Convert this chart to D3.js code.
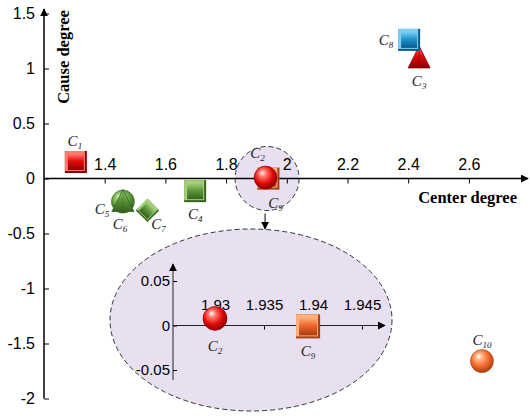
<!DOCTYPE html>
<meta charset="utf-8">
<style>
    body { margin: 0; background: #fff; }
    .tick text { font-family: "Liberation Sans", Arial, sans-serif; font-size: 16px; fill: #000; }
    .inset .tick text { font-size: 15px; }
    .lbl { font-family: "Liberation Serif", "Times New Roman", serif; font-style: italic; font-size: 15px; fill: #222; }
    .title { font-family: "Liberation Serif", "Times New Roman", serif; font-weight: bold; font-size: 16.5px; }
</style>
<body>
<script src="https://cdn.jsdelivr.net/npm/d3@7"></script>
<script>
    /* data */
    var ids = ["C1", "C2", "C3", "C4", "C5", "C6", "C7", "C8", "C9", "C10"];
    var centerDeg = [1.305, 1.93, 2.436, 1.698, 1.46, 1.46, 1.541, 2.403, 1.9395, 2.643];
    var causeDeg = [0.15, 0.008, 1.095, -0.115, -0.21, -0.21, -0.29, 1.26, -0.001, -1.66];
    var shapes = ["square", "sphere", "triangle", "square", "sphere", "triangle", "diamond", "square", "square", "sphere"];
    var colorKey = ["red", "red", "red", "green", "green", "green", "green", "blue", "orange", "orange"];

    var xTicks = [1.4, 1.6, 1.8, 2, 2.2, 2.4, 2.6];
    var yTicks = [-2, -1.5, -1, -0.5, 0, 0.5, 1, 1.5];
    var insetIds = ["C2", "C9"];
    var insetXTicks = [1.93, 1.935, 1.94, 1.945];
    var insetYTicks = [-0.05, 0, 0.05];

    /* colours: light / base / dark */
    var palette = {
        red: ["#ff7a6e", "#e30b0b", "#8c0000"],
        green: ["#a6d07e", "#5e9a3a", "#35621f"],
        blue: ["#7fcff2", "#1d93cc", "#0c5a88"],
        orange: ["#ffb27e", "#f0672a", "#a83c0e"]
    };

    // label offsets from marker centre (main plot)
    var labelOff = {
        C1: [-1, -21], C2: [-8, -25], C3: [0, 23], C4: [0, 23], C5: [-21, 7],
        C6: [-3, 22], C7: [11, 14], C8: [-23, 0], C9: [7, 24], C10: [0, -21]
    };
    var insetLabelOff = { C2: [0, 28], C9: [0, 25] };

    var w = 530, h = 416;

    var svg = d3.select("body").append("svg")
        .attr("width", w)
        .attr("height", h);

    var defs = svg.append("defs");

    Object.keys(palette).forEach(function (k) {
        var c = palette[k];
        var rg = defs.append("radialGradient").attr("id", "sph-" + k)
            .attr("cx", "45%").attr("cy", "40%").attr("r", "60%")
            .attr("fx", "35%").attr("fy", "28%");
        rg.append("stop").attr("offset", "0%").attr("stop-color", "#fff").attr("stop-opacity", 0.9);
        rg.append("stop").attr("offset", "25%").attr("stop-color", c[0]);
        rg.append("stop").attr("offset", "65%").attr("stop-color", c[1]);
        rg.append("stop").attr("offset", "100%").attr("stop-color", c[2]);

        var lg = defs.append("linearGradient").attr("id", "lin-" + k)
            .attr("x1", 0).attr("y1", 0).attr("x2", 0).attr("y2", 1);
        lg.append("stop").attr("offset", "0%").attr("stop-color", c[0]);
        lg.append("stop").attr("offset", "45%").attr("stop-color", c[1]);
        lg.append("stop").attr("offset", "100%").attr("stop-color", c[2]);
    });

    defs.append("marker").attr("id", "arrow")
        .attr("viewBox", "0 0 10 10").attr("refX", 9).attr("refY", 5)
        .attr("markerWidth", 8).attr("markerHeight", 8)
        .attr("markerUnits", "userSpaceOnUse")
        .attr("orient", "auto")
        .append("path").attr("d", "M0,0L10,5L0,10z").attr("fill", "#000");

    /* main scales */
    var xScale = d3.scaleLinear().domain([1.2, 2.8]).range([44, 529.6]);
    var yScale = d3.scaleLinear().domain([-2, 1.5]).range([398.5, 13.5]);

    /* inset scales */
    var ixScale = d3.scaleLinear().domain([1.93, 1.945]).range([215, 362]);
    var iyScale = d3.scaleLinear().domain([-0.05, 0.05]).range([370, 281]);

    // zoom ellipses
    svg.append("ellipse")
        .attr("cx", 251).attr("cy", 320).attr("rx", 141).attr("ry", 91)
        .attr("fill", "#e8e0f0").attr("stroke", "#333").attr("stroke-dasharray", "5,3");
    svg.append("circle")
        .attr("cx", xScale(1.935)).attr("cy", yScale(0)).attr("r", 32)
        .attr("fill", "#e8e0f0").attr("stroke", "#333").attr("stroke-dasharray", "5,3");
    svg.append("line")
        .attr("x1", xScale(1.935) - 2).attr("y1", yScale(0) + 35)
        .attr("x2", xScale(1.935) - 2).attr("y2", 229)
        .attr("stroke", "#000").attr("marker-end", "url(#arrow)");

    /* main axes */
    var xAxis = d3.axisTop(xScale).tickValues(xTicks).tickSize(-5).tickPadding(9).tickFormat(d3.format(""));
    var yAxis = d3.axisLeft(yScale).tickValues(yTicks).tickSize(-5).tickPadding(9).tickFormat(d3.format(""));

    var gx = svg.append("g").attr("transform", "translate(0," + yScale(0) + ")").call(xAxis);
    var gy = svg.append("g").attr("transform", "translate(44,0)").call(yAxis);
    gx.select(".domain").remove();
    gy.select(".domain").remove();
    gy.selectAll(".tick text").text(function (d) { return d < 0 ? "-" + Math.abs(d) : d; });

    svg.append("line").attr("x1", 44).attr("y1", yScale(0)).attr("x2", 528).attr("y2", yScale(0))
        .attr("stroke", "#000").attr("stroke-width", 1.5).attr("marker-end", "url(#arrow)");
    svg.append("line").attr("x1", 44).attr("y1", yScale(-2)).attr("x2", 44).attr("y2", 9)
        .attr("stroke", "#000").attr("stroke-width", 1.5).attr("marker-end", "url(#arrow)");

    svg.append("text").attr("class", "title")
        .attr("transform", "translate(69,57) rotate(-90)")
        .attr("text-anchor", "middle").text("Cause degree");
    svg.append("text").attr("class", "title")
        .attr("x", 517).attr("y", 203).attr("text-anchor", "end").text("Center degree");

    /* inset axes */
    var ixAxis = d3.axisTop(ixScale).tickValues(insetXTicks).tickSize(-4).tickPadding(16).tickFormat(d3.format(""));
    var iyAxis = d3.axisLeft(iyScale).tickValues(insetYTicks).tickSize(-4).tickPadding(3).tickFormat(d3.format(""));
    var gix = svg.append("g").attr("class", "inset").attr("transform", "translate(0," + iyScale(0) + ")").call(ixAxis);
    var giy = svg.append("g").attr("class", "inset").attr("transform", "translate(173,0)").call(iyAxis);
    gix.select(".domain").remove();
    giy.select(".domain").remove();
    giy.selectAll(".tick text").text(function (d) { return d < 0 ? "-" + Math.abs(d) : d; });
    svg.append("line").attr("x1", 173).attr("y1", iyScale(0)).attr("x2", 385).attr("y2", iyScale(0))
        .attr("stroke", "#222").attr("marker-end", "url(#arrow)");
    svg.append("line").attr("x1", 173).attr("y1", 380).attr("x2", 173).attr("y2", 264)
        .attr("stroke", "#222").attr("marker-end", "url(#arrow)");

    /* marker drawing */
    function drawMarker(g, shape, ck, cx, cy, s) {
        var c = palette[ck];
        if (shape === "sphere") {
            g.append("circle").attr("cx", cx).attr("cy", cy).attr("r", s / 2)
                .attr("fill", "url(#sph-" + ck + ")").attr("stroke", c[2]).attr("stroke-width", 0.6);
        } else if (shape === "square" || shape === "diamond") {
            var sq = g.append("g").attr("transform", "translate(" + cx + "," + cy + ")" +
                (shape === "diamond" ? " rotate(45) scale(0.75)" : ""));
            sq.append("rect").attr("x", -s / 2).attr("y", -s / 2).attr("width", s).attr("height", s)
                .attr("fill", c[2]);
            sq.append("rect").attr("x", -s / 2).attr("y", -s / 2).attr("width", s - 2).attr("height", s - 2)
                .attr("fill", c[0]);
            sq.append("rect").attr("x", -s / 2 + 3).attr("y", -s / 2 + 3).attr("width", s - 6).attr("height", s - 6)
                .attr("fill", "url(#lin-" + ck + ")");
        } else if (shape === "triangle") {
            var p = [[cx, cy - s * 0.55], [cx + s / 2, cy + s * 0.45], [cx - s / 2, cy + s * 0.45]];
            g.append("polygon").attr("points", p.join(" "))
                .attr("fill", "url(#lin-" + ck + ")").attr("stroke", c[2]).attr("stroke-width", 0.8);
            g.append("line").attr("x1", cx).attr("y1", cy - s * 0.55).attr("x2", cx).attr("y2", cy + s * 0.45)
                .attr("stroke", c[2]).attr("stroke-opacity", 0.5);
        }
    }

    function drawLabel(x, y, id) {
        var t = svg.append("text").attr("class", "lbl").attr("x", x).attr("y", y + 5).attr("text-anchor", "middle");
        t.append("tspan").text("C");
        t.append("tspan").attr("font-size", 9).attr("dy", 3).text(id.slice(1));
    }

    var pts = ids.map(function (id, i) {
        return { id: id, x: centerDeg[i], y: causeDeg[i], shape: shapes[i], col: colorKey[i] };
    });

    // draw C9 before C2 so the sphere sits on top, and C5 before C6
    var order = ["C9", "C1", "C3", "C8", "C4", "C5", "C6", "C7", "C2", "C10"];
    var gm = svg.append("g");
    order.forEach(function (id) {
        var d = pts.filter(function (p) { return p.id === id; })[0];
        var size = d.shape === "sphere" ? 23 : 22;
        drawMarker(gm, d.shape, d.col, xScale(d.x), yScale(d.y), size);
    });
    pts.forEach(function (d) {
        var o = labelOff[d.id];
        drawLabel(xScale(d.x) + o[0], yScale(d.y) + o[1], d.id);
    });

    // inset markers
    insetIds.slice().reverse().forEach(function (id) {
        var d = pts.filter(function (p) { return p.id === id; })[0];
        drawMarker(svg, d.shape, d.col, ixScale(d.x), iyScale(d.y), 24);
        var o = insetLabelOff[id];
        drawLabel(ixScale(d.x) + o[0], iyScale(d.y) + o[1], id);
    });
</script>
</body>
